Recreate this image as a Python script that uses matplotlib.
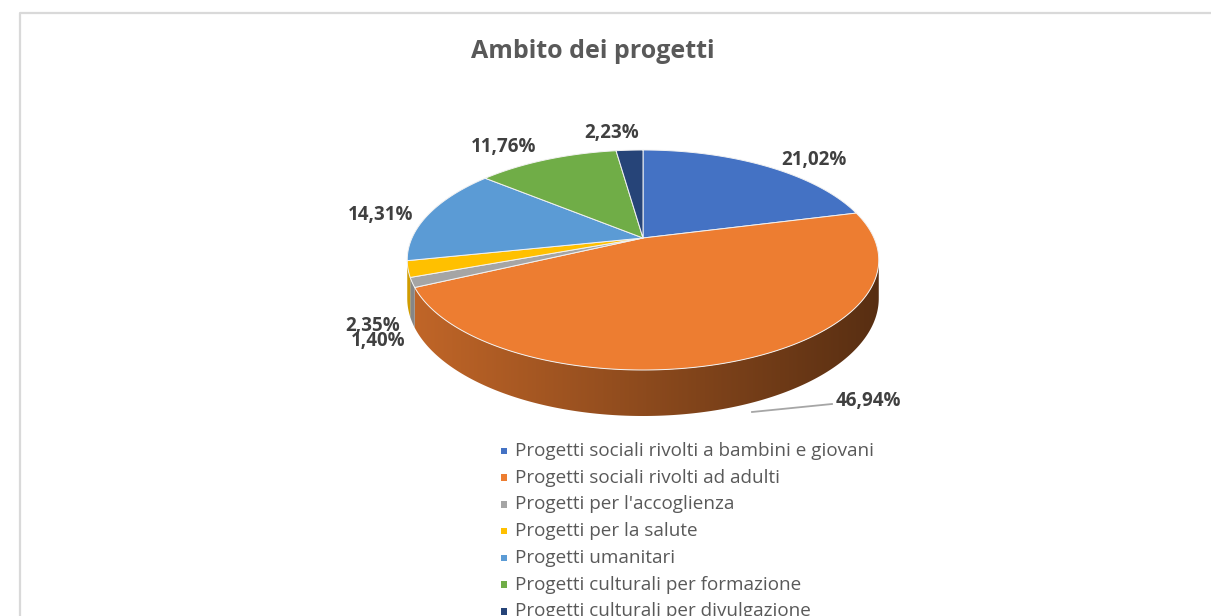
import numpy as np
import matplotlib
matplotlib.use("Agg")
import matplotlib.pyplot as plt
from matplotlib.patches import Polygon, Rectangle

# ---------------- data ----------------
title = "Ambito dei progetti"
categories = [
    "Progetti sociali rivolti a bambini e giovani",
    "Progetti sociali rivolti ad adulti",
    "Progetti per l'accoglienza",
    "Progetti per la salute",
    "Progetti umanitari",
    "Progetti culturali per formazione",
    "Progetti culturali per divulgazione",
]
values = [21.02, 46.94, 1.40, 2.35, 14.31, 11.76, 2.23]
value_labels = ["21,02%", "46,94%", "1,40%", "2,35%", "14,31%", "11,76%", "2,23%"]

# ---------------- style ----------------
colors = ["#4472C4", "#ED7D31", "#A5A5A5", "#FFC000", "#5B9BD5", "#70AD47", "#264478"]
label_xy = [(814, 160), (868, 401), (378, 341), (373, 326), (381, 215), (504, 147), (612, 133)]
FONT = ["Open Sans", "DejaVu Sans"]

W, H = 1211, 616
fig = plt.figure(figsize=(W / 100, H / 100), dpi=100)
ax = fig.add_axes([0, 0, 1, 1])
ax.set_xlim(0, W)
ax.set_ylim(H, 0)
ax.axis("off")

# chart border
ax.plot([20, 20, W + 5], [H + 5, 12.5, 12.5], color="#D9D9D9", lw=1.6,
        solid_capstyle="butt", zorder=1)

# ---------------- 3D pie geometry (perspective) ----------------
cx, cy = 643.0, 238.0
A, B, K, D = 231.0, 105.6, 0.2, 36.8


def proj(theta, r=1.0):
    u = r * np.sin(theta)
    v = r * np.cos(theta)
    den = 1 + K * v
    return cx + A * u / den, cy - B * v / den


def depth(theta):
    return D / (1 + K * np.cos(theta))


fracs = np.array(values) / np.sum(values)
bounds = np.concatenate([[0], np.cumsum(fracs)]) * 2 * np.pi

vis0 = np.arccos(-K)           # visible side range
vis1 = 2 * np.pi - vis0

x_left, x_right = 405.0, 880.0
grad_n = 256
shade = np.linspace(0.82, 0.37, grad_n)

# sides
for i, c in enumerate(colors):
    t0, t1 = bounds[i], bounds[i + 1]
    s0, s1 = max(t0, vis0), min(t1, vis1)
    if s1 <= s0:
        continue
    th = np.linspace(s0, s1, 200)
    xt, yt = proj(th)
    yb = yt + depth(th)
    pts = np.column_stack([np.concatenate([xt, xt[::-1]]),
                           np.concatenate([yt, yb[::-1]])])
    poly = Polygon(pts, closed=True, facecolor="none", edgecolor="none")
    ax.add_patch(poly)
    base = np.array(matplotlib.colors.to_rgb(c))
    img = (shade[:, None] * base[None, :])[None, :, :]
    im = ax.imshow(img, extent=(x_left, x_right, 430, 150), aspect="auto",
                   interpolation="bilinear", zorder=2)
    im.set_clip_path(poly)

# tops
for i, c in enumerate(colors):
    t0, t1 = bounds[i], bounds[i + 1]
    th = np.linspace(t0, t1, max(int(400 * (t1 - t0)), 8))
    xt, yt = proj(th)
    pts = np.column_stack([np.concatenate([[cx], xt]), np.concatenate([[cy], yt])])
    ax.add_patch(Polygon(pts, closed=True, facecolor=c, edgecolor="#F2F2F2",
                         lw=0.7, joinstyle="round", zorder=3))

# leader line for largest slice
ax.plot([752, 832], [412, 404], color="#A6A6A6", lw=1.3, zorder=4)

# data labels
for (lx, ly), txt in zip(label_xy, value_labels):
    ax.text(lx, ly, txt, ha="center", va="center", fontsize=13.5,
            fontweight="bold", color="#404040", family=FONT, zorder=5)

# title
ax.text(593, 52, title, ha="center", va="center", fontsize=18,
        fontweight="bold", color="#595959", family=FONT, zorder=5)

# legend
leg_x, leg_y0, leg_dy = 504, 451, 26.7
for i, (c, name) in enumerate(zip(colors, categories)):
    y = leg_y0 + i * leg_dy
    ax.add_patch(Rectangle((leg_x - 3.3, y - 3.3), 6.6, 6.6, facecolor=c,
                           edgecolor="none", zorder=5))
    ax.text(leg_x + 11, y, name, ha="left", va="center", fontsize=13.6,
            color="#595959", family=FONT, zorder=5)

fig.savefig("out.png", dpi=100, facecolor="white")
